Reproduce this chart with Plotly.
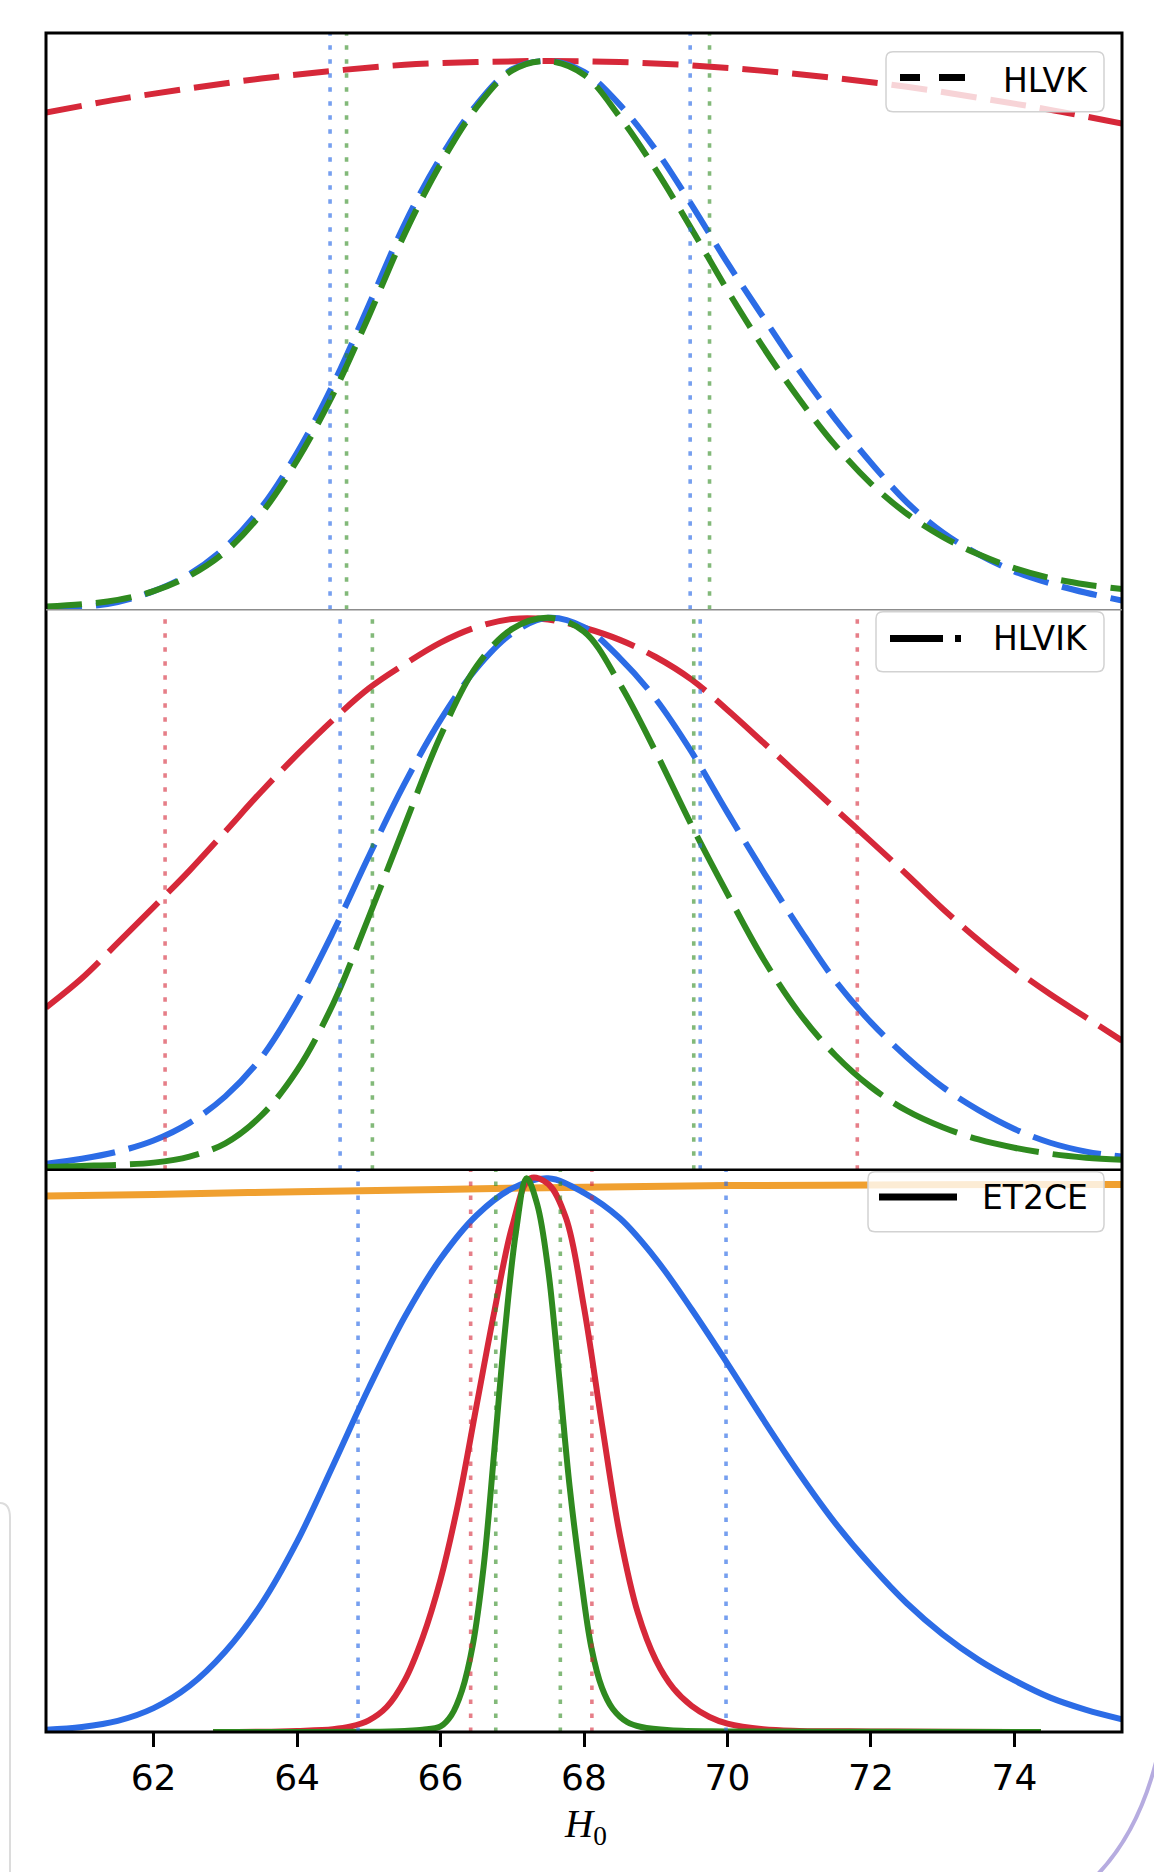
import plotly.graph_objects as go
from plotly.subplots import make_subplots

# ------------------------------------------------------------------ data
H0_GRID = [60.5, 61.0, 61.5, 62.0, 62.5, 63.0, 63.5, 64.0, 64.5, 65.0, 65.5,
           66.0, 66.5, 67.0, 67.5, 68.0, 68.5, 69.0, 69.5, 70.0, 70.5, 71.0,
           71.5, 72.0, 72.5, 73.0, 73.5, 74.0, 74.5, 75.0, 75.5]

# HLVK (top panel, dashed)
HLVK_RED_X = [60.5, 61.5, 62.5, 63.5, 64.5, 65.5, 66.5, 67.5, 68.5, 69.5,
              70.5, 71.5, 72.5, 73.5, 74.5, 75.5]
HLVK_RED = [0.906, 0.930, 0.950, 0.968, 0.982, 0.993, 0.998, 1.000, 0.998,
            0.992, 0.982, 0.969, 0.953, 0.933, 0.911, 0.886]
HLVK_BLUE = [0.002, 0.005, 0.014, 0.034, 0.065, 0.114, 0.186, 0.286, 0.410,
             0.555, 0.703, 0.824, 0.920, 0.985, 1.000, 0.980, 0.920, 0.838,
             0.738, 0.632, 0.533, 0.436, 0.348, 0.268, 0.196, 0.141, 0.101,
             0.070, 0.048, 0.031, 0.017]
HLVK_GREEN = [0.006, 0.010, 0.018, 0.034, 0.062, 0.106, 0.175, 0.272, 0.392,
              0.535, 0.685, 0.812, 0.915, 0.983, 1.000, 0.975, 0.898, 0.802,
              0.694, 0.582, 0.478, 0.384, 0.300, 0.230, 0.175, 0.133, 0.101,
              0.076, 0.058, 0.046, 0.038]

# HLVIK (middle panel, long dashes)
HLVIK_RED = [0.294, 0.347, 0.411, 0.476, 0.542, 0.613, 0.685, 0.752, 0.815,
             0.872, 0.916, 0.955, 0.983, 0.998, 0.997, 0.982, 0.960, 0.929,
             0.888, 0.833, 0.774, 0.714, 0.654, 0.595, 0.535, 0.473, 0.416,
             0.364, 0.318, 0.276, 0.234]
HLVIK_BLUE = [0.011, 0.020, 0.033, 0.053, 0.085, 0.133, 0.203, 0.305, 0.430,
              0.568, 0.700, 0.815, 0.908, 0.972, 1.000, 0.983, 0.927, 0.853,
              0.757, 0.647, 0.540, 0.438, 0.343, 0.267, 0.204, 0.150, 0.108,
              0.074, 0.049, 0.033, 0.024]
HLVIK_GREEN = [0.005, 0.007, 0.009, 0.013, 0.024, 0.048, 0.098, 0.180, 0.300,
               0.458, 0.624, 0.786, 0.912, 0.980, 1.000, 0.975, 0.880, 0.757,
               0.624, 0.500, 0.382, 0.284, 0.208, 0.150, 0.107, 0.077, 0.055,
               0.040, 0.029, 0.022, 0.018]

# ET2CE (bottom panel, solid)
ET2CE_BLUE = [0.004, 0.009, 0.020, 0.043, 0.083, 0.145, 0.230, 0.343, 0.480,
              0.620, 0.748, 0.853, 0.931, 0.980, 0.998, 0.972, 0.926, 0.853,
              0.762, 0.664, 0.563, 0.466, 0.377, 0.300, 0.232, 0.176, 0.130,
              0.093, 0.062, 0.040, 0.023]
ET2CE_RED_X = [62.83, 63.5, 64.0, 64.5, 64.75, 65.0, 65.25, 65.5, 65.75, 66.0,
               66.25, 66.5, 66.75, 67.0, 67.25, 67.5, 67.75, 68.0, 68.25, 68.5,
               68.75, 69.0, 69.25, 69.5, 69.75, 70.0, 70.5, 71.0, 72.0, 73.0,
               74.37]
ET2CE_RED = [0.0, 0.0005, 0.002, 0.005, 0.010, 0.021, 0.045, 0.093, 0.170,
             0.275, 0.415, 0.587, 0.758, 0.912, 0.998, 0.988, 0.926, 0.765,
             0.555, 0.355, 0.215, 0.130, 0.078, 0.047, 0.027, 0.015, 0.005,
             0.002, 0.001, 0.0005, 0.0]
ET2CE_GREEN_X = [62.83, 64.0, 65.0, 65.5, 65.75, 66.0, 66.15, 66.3, 66.45,
                 66.6, 66.75, 66.9, 67.05, 67.2, 67.35, 67.5, 67.65, 67.8,
                 67.95, 68.1, 68.25, 68.4, 68.6, 68.8, 69.2, 70.0, 72.0, 74.37]
ET2CE_GREEN = [0.0, 0.0, 0.0005, 0.002, 0.004, 0.010, 0.030, 0.075, 0.157,
               0.297, 0.508, 0.725, 0.900, 0.998, 0.950, 0.834, 0.645, 0.442,
               0.285, 0.154, 0.080, 0.042, 0.018, 0.009, 0.003, 0.001, 0.0005,
               0.0]
ET2CE_ORANGE_X = [60.5, 62.0, 64.0, 66.0, 68.0, 70.0, 72.0, 74.0, 75.5]
ET2CE_ORANGE = [0.966, 0.969, 0.974, 0.978, 0.982, 0.985, 0.986, 0.987, 0.987]

# credible-interval bounds (dotted vertical lines)
HLVK_CI_BLUE = [64.46, 69.48]
HLVK_CI_GREEN = [64.69, 69.75]
HLVIK_CI_RED = [62.16, 71.81]
HLVIK_CI_BLUE = [64.60, 69.62]
HLVIK_CI_GREEN = [65.05, 69.53]
ET2CE_CI_RED = [66.42, 68.11]
ET2CE_CI_BLUE = [64.85, 69.98]
ET2CE_CI_GREEN = [66.77, 67.67]

X_TICKS = [62, 64, 66, 68, 70, 72, 74]
X_RANGE = [60.5, 75.5]
Y_TOPS = [1.051, 1.0145, 1.0134]
LEGEND_LABELS = ["HLVK", "HLVIK", "ET2CE"]

# ------------------------------------------------------------------ style
BLUE = "#2c6ce6"
RED = "#d62839"
GREEN = "#2f8a1f"
ORANGE = "#f0a030"
DOT_BLUE = "rgba(44,108,230,0.65)"
DOT_RED = "rgba(214,40,57,0.6)"
DOT_GREEN = "rgba(47,138,31,0.6)"

W, H = 1154, 1872
ML, MR, MT, MB = 46, 32, 33, 140
PW, PH = W - ML - MR, H - MT - MB


def PX(x):
    return (x - ML) / PW


def PY(y):
    return (H - MB - y) / PH


fig = make_subplots(rows=3, cols=1, shared_xaxes=True, vertical_spacing=0)


def curve(x, y, color, dash, row, width=6):
    fig.add_trace(go.Scatter(x=x, y=y, mode="lines",
                             line=dict(color=color, width=width, dash=dash,
                                       shape="spline", smoothing=1.0),
                             showlegend=False, hoverinfo="skip"),
                  row=row, col=1)


def ci(bounds, color, row):
    for b in bounds:
        fig.add_trace(go.Scatter(x=[b, b], y=[0, Y_TOPS[row - 1]], mode="lines",
                                 line=dict(color=color, width=3.6,
                                           dash="4.5px,9.5px"),
                                 showlegend=False, hoverinfo="skip"),
                      row=row, col=1)


D1 = "36px,14px"
D2 = "70px,14px"
# top panel
curve(HLVK_RED_X, HLVK_RED, RED, D1, 1)
curve(H0_GRID, HLVK_BLUE, BLUE, D1, 1)
curve(H0_GRID, HLVK_GREEN, GREEN, D1, 1)
ci(HLVK_CI_BLUE, DOT_BLUE, 1)
ci(HLVK_CI_GREEN, DOT_GREEN, 1)
# middle panel
curve(H0_GRID, HLVIK_RED, RED, D2, 2)
curve(H0_GRID, HLVIK_BLUE, BLUE, D2, 2)
curve(H0_GRID, HLVIK_GREEN, GREEN, D2, 2)
ci(HLVIK_CI_RED, DOT_RED, 2)
ci(HLVIK_CI_BLUE, DOT_BLUE, 2)
ci(HLVIK_CI_GREEN, DOT_GREEN, 2)
# bottom panel
curve(ET2CE_ORANGE_X, ET2CE_ORANGE, ORANGE, "solid", 3, width=7)
curve(H0_GRID, ET2CE_BLUE, BLUE, "solid", 3)
curve(ET2CE_RED_X, ET2CE_RED, RED, "solid", 3)
curve(ET2CE_GREEN_X, ET2CE_GREEN, GREEN, "solid", 3)
ci(ET2CE_CI_RED, DOT_RED, 3)
ci(ET2CE_CI_GREEN, DOT_GREEN, 3)
ci(ET2CE_CI_BLUE, DOT_BLUE, 3)

# ------------------------------------------------------------------ axes
doms = [[PY(609.8), 1.0], [PY(1169.8), PY(609.8)], [0.0, PY(1169.8)]]
for i in range(3):
    fig.update_yaxes(domain=doms[i], range=[0, Y_TOPS[i]], showticklabels=False,
                     ticks="", showgrid=False, zeroline=False, showline=False,
                     row=i + 1, col=1)
    fig.update_xaxes(range=X_RANGE, showgrid=False, zeroline=False,
                     showline=False, row=i + 1, col=1)
fig.update_xaxes(ticks="", showticklabels=False, row=1, col=1)
fig.update_xaxes(ticks="", showticklabels=False, row=2, col=1)
fig.update_xaxes(ticks="outside", tickvals=X_TICKS, ticklen=14, tickwidth=2.5,
                 tickcolor="black", showticklabels=True,
                 tickfont=dict(family="DejaVu Sans", size=36, color="black"),
                 row=3, col=1)

# ------------------------------------------------------------------ frame
shapes = []
shapes.append(dict(type="rect", xref="paper", yref="paper", x0=0, x1=1, y0=0,
                   y1=1, line=dict(color="black", width=3), layer="above"))
shapes.append(dict(type="line", xref="paper", yref="paper", x0=0, x1=1,
                   y0=doms[0][0], y1=doms[0][0],
                   line=dict(color="#8c8c8c", width=1.6), layer="above"))
shapes.append(dict(type="line", xref="paper", yref="paper", x0=0, x1=1,
                   y0=doms[2][1], y1=doms[2][1],
                   line=dict(color="black", width=2.6), layer="above"))


def rrect(x0, y0, x1, y1, r):
    X0, X1, Y0, Y1 = PX(x0), PX(x1), PY(y0), PY(y1)
    rx, ry = r / PW, r / PH
    return (f"M {X0 + rx},{Y0} L {X1 - rx},{Y0} Q {X1},{Y0} {X1},{Y0 - ry} "
            f"L {X1},{Y1 + ry} Q {X1},{Y1} {X1 - rx},{Y1} L {X0 + rx},{Y1} "
            f"Q {X0},{Y1} {X0},{Y1 + ry} L {X0},{Y0 - ry} Q {X0},{Y0} {X0 + rx},{Y0} Z")


legend_boxes = [(886, 51.7, 1104, 111.7), (876, 611.7, 1104, 671.7),
                (868, 1171.7, 1104, 1231.7)]
legend_lines = [(900, 965, 77.5, "20px,19px,26px,60px"),
                (890, 961, 638.5, "53px,12px,6px,60px"),
                (879, 957, 1197, "solid")]
legend_text_y = [80.5, 638.5, 1197.5]

annotations = []
for box, ln, ty, lab in zip(legend_boxes, legend_lines, legend_text_y,
                            LEGEND_LABELS):
    shapes.append(dict(type="path", xref="paper", yref="paper",
                       path=rrect(*box, 7), fillcolor="rgba(255,255,255,0.8)",
                       line=dict(color="#d2d2d2", width=1.5), layer="above"))
    shapes.append(dict(type="line", xref="paper", yref="paper",
                       x0=PX(ln[0]), x1=PX(ln[1]), y0=PY(ln[2]), y1=PY(ln[2]),
                       line=dict(color="black", width=7, dash=ln[3]),
                       layer="above"))
    annotations.append(dict(xref="paper", yref="paper", x=PX(1090), y=PY(ty),
                            xanchor="right", yanchor="middle", text=lab,
                            showarrow=False,
                            font=dict(family="DejaVu Sans", size=33,
                                      color="black")))

# x-axis label
annotations.append(dict(xref="paper", yref="paper", x=PX(585), y=PY(1826),
                        xanchor="center", yanchor="middle",
                        text="<i>H</i><sub>0</sub>", showarrow=False,
                        font=dict(family="Liberation Serif", size=39,
                                  color="black")))

# screenshot artefacts at the edges of the reference
shapes.append(dict(type="path", xref="paper", yref="paper",
                   path=(f"M {PX(0)},{PY(1503)} Q {PX(10)},{PY(1503)} "
                         f"{PX(10)},{PY(1518)} L {PX(10)},{PY(1872)}"),
                   line=dict(color="#dcdcdc", width=2), layer="above"))
shapes.append(dict(type="path", xref="paper", yref="paper",
                   path=(f"M {PX(1156)},{PY(1762)} Q {PX(1138)},{PY(1832)} "
                         f"{PX(1098)},{PY(1874)}"),
                   line=dict(color="#b6ace0", width=4), layer="above"))

fig.update_layout(width=W, height=H, margin=dict(l=ML, r=MR, t=MT, b=MB),
                  paper_bgcolor="white", plot_bgcolor="white",
                  showlegend=False, hovermode=False,
                  shapes=shapes, annotations=annotations)

fig.write_html("out.html", config={"displayModeBar": False},
               post_script="document.body.style.margin='0';"
                           "document.body.style.overflow='hidden';")
